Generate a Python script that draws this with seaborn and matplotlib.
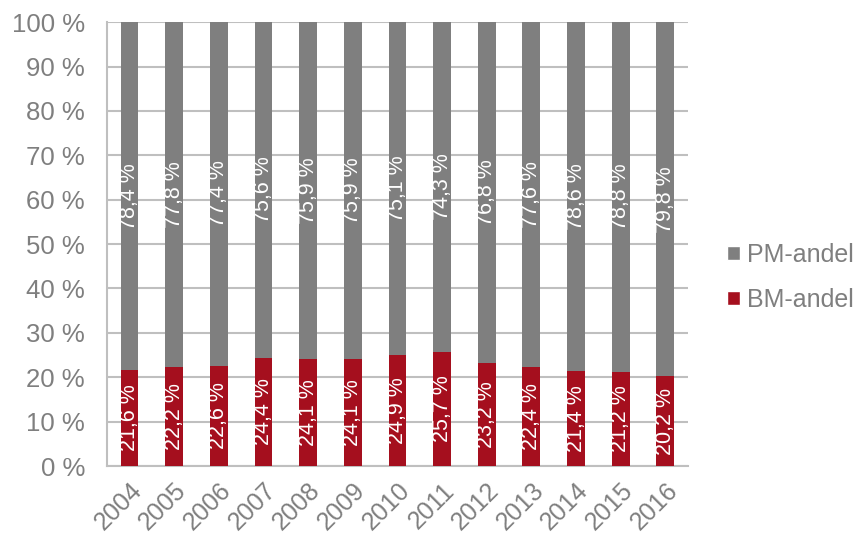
import matplotlib
matplotlib.use("Agg")
import matplotlib.pyplot as plt
from matplotlib.patches import Patch
import seaborn as sns
import pandas as pd

years = ["2004", "2005", "2006", "2007", "2008", "2009", "2010",
         "2011", "2012", "2013", "2014", "2015", "2016"]
bm_share = [21.6, 22.2, 22.6, 24.4, 24.1, 24.1, 24.9, 25.7, 23.2, 22.4, 21.4, 21.2, 20.2]
pm_share = [78.4, 77.8, 77.4, 75.6, 75.9, 75.9, 75.1, 74.3, 76.8, 77.6, 78.6, 78.8, 79.8]

GRAY = "#7f7f7f"
RED = "#a50f1e"
TEXT = "#7f7f7f"
GRID = "#bfbfbf"

sns.set_theme(style="white")
plt.rcParams["font.family"] = ["Liberation Sans", "DejaVu Sans"]

df = pd.DataFrame({"year": years, "BM": bm_share, "PM": pm_share})
df["total"] = df["BM"] + df["PM"]

fig = plt.figure(figsize=(8.64, 5.4), dpi=100)
ax = fig.add_axes([0.124, 0.137, 0.672, 0.822])

sns.barplot(data=df, x="year", y="total", color=GRAY, width=0.4,
            saturation=1, ax=ax, zorder=3, linewidth=0)
sns.barplot(data=df, x="year", y="BM", color=RED, width=0.4,
            saturation=1, ax=ax, zorder=4, linewidth=0)

for i, (bm, pm) in enumerate(zip(bm_share, pm_share)):
    ax.text(i, bm / 2, f"{bm:.1f} %".replace(".", ","), rotation=90,
            ha="center", va="center", color="white", fontsize=15.5, zorder=5)
    ax.text(i, bm + pm / 2, f"{pm:.1f} %".replace(".", ","), rotation=90,
            ha="center", va="center", color="white", fontsize=15.5, zorder=5)

n = len(years)
ax.set_xlim(-0.5, n - 0.5)
ax.set_ylim(0, 100)
ax.set_yticks(range(0, 101, 10))
ax.set_yticklabels([f"{v} %" for v in range(0, 101, 10)])
ax.yaxis.grid(True, color=GRID, linewidth=1.5, zorder=0)
ax.set_axisbelow(True)

ax.set_xticks(range(n))
ax.set_xticklabels(years, rotation=45, ha="right", rotation_mode="anchor")
ax.set_xticks([i - 0.5 for i in range(n + 1)], minor=True)
ax.tick_params(axis="x", which="major", length=0, pad=9, labelsize=18, labelcolor=TEXT)
ax.tick_params(axis="x", which="minor", length=7, width=1.5, color=GRID, direction="out")
ax.tick_params(axis="y", length=7, width=1.5, color=GRID, direction="out",
               labelsize=18.5, labelcolor=TEXT, pad=9)

ax.set_xlabel("")
ax.set_ylabel("")
for side in ("top", "right"):
    ax.spines[side].set_visible(False)
for side in ("left", "bottom"):
    ax.spines[side].set_color(GRID)
    ax.spines[side].set_linewidth(1.5)

handles = [Patch(facecolor=GRAY, label="PM-andel"),
           Patch(facecolor=RED, label="BM-andel")]
fig.legend(handles=handles, loc="center left", bbox_to_anchor=(0.842, 0.486),
           frameon=False, fontsize=18, labelcolor=TEXT, handlelength=0.5,
           handleheight=0.5, handletextpad=0.3, labelspacing=0.85,
           borderpad=0, borderaxespad=0)

fig.savefig("out.png", dpi=100)
